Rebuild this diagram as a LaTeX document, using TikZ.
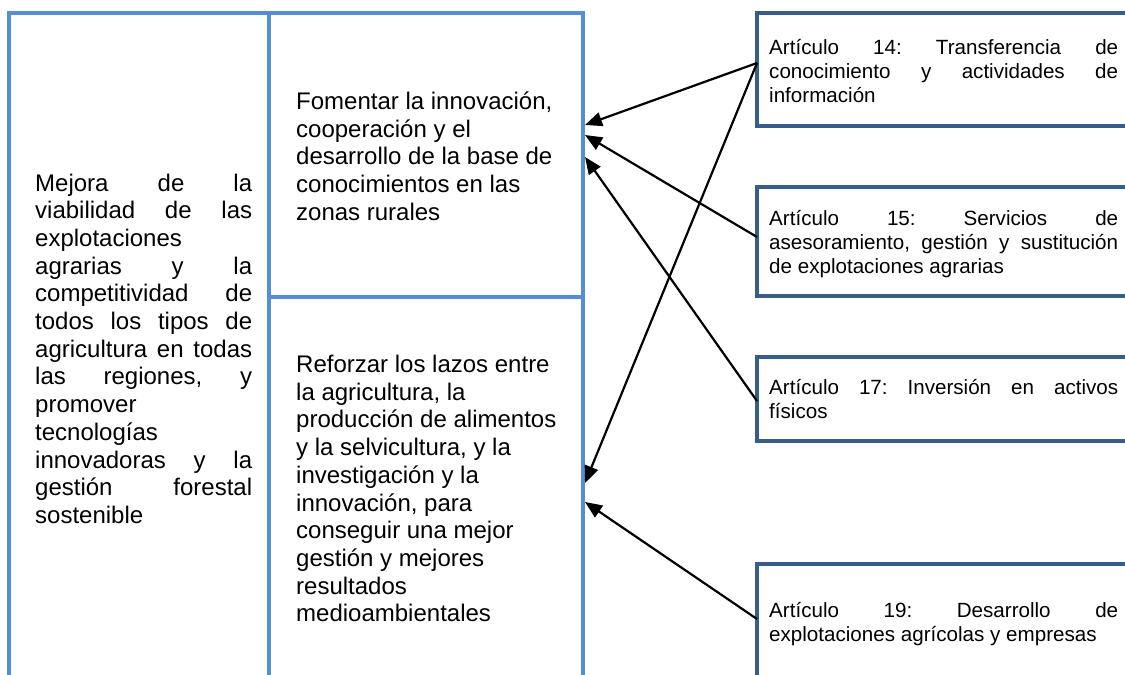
\documentclass[tikz,border=0pt]{standalone}
\usepackage{fontspec}
\setmainfont{Liberation Sans}
\usetikzlibrary{arrows.meta}
\definecolor{tblue}{HTML}{558ED5}
\definecolor{bblue}{HTML}{385D8A}
\begin{document}
\begin{tikzpicture}[x=1pt,y=-1pt,
  cell/.style={draw=tblue,line width=4pt,inner sep=0pt,outer sep=0pt,anchor=north west},
  rbox/.style={draw=bblue,line width=4pt,inner sep=0pt,outer sep=0pt,anchor=north west,minimum width=400pt},
  bigtxt/.style={inner sep=0pt,anchor=base west,font=\fontsize{24}{27.7}\selectfont},
  smtxt/.style={inner sep=0pt,anchor=base west,font=\fontsize{20.6}{24}\selectfont},
  arr/.style={line width=2.2pt,-{Triangle[length=17pt,width=14pt]}}]
\clip (0,0) rectangle (1125,675);
\fill[white] (0,0) rectangle (1125,675);
% table cells
\node[cell,minimum width=259.7pt,minimum height=720pt] (left) at (9.3,13) {};
\node[cell,minimum width=313.7pt,minimum height=283.7pt] (mtop) at (269,13) {};
\node[cell,minimum width=313.7pt,minimum height=420pt] (mbot) at (269,296.7) {};
% right boxes
\node[rbox,minimum height=113pt] (b14) at (757,13) {};
\node[rbox,minimum height=109pt] (b15) at (757,187) {};
\node[rbox,minimum height=84pt] (b17) at (757,357) {};
\node[rbox,minimum height=116pt] (b19) at (757,564) {};
% texts
\node[bigtxt] (tleft) at (35,191) {\parbox[t]{217pt}{Mejora\hfill de\hfill la\\
viabilidad\hfill de\hfill las\\
explotaciones\\
agrarias\hfill y\hfill la\\
competitividad\hfill de\\
todos\hfill los\hfill tipos\hfill de\\
agricultura\hfill en\hfill todas\\
las\hfill regiones,\hfill y\\
promover\\
tecnologías\\
innovadoras\hfill y\hfill la\\
gestión\hfill forestal\\
sostenible}};
\node[bigtxt] (ttop) at (296,109.5) {\parbox[t]{280pt}{\raggedright Fomentar la innovación,\\
cooperación y el\\
desarrollo de la base de\\
conocimientos en las\\
zonas rurales}};
\node[bigtxt] (tbot) at (296,372.5) {\parbox[t]{280pt}{\raggedright Reforzar los lazos entre\\
la agricultura, la\\
producción de alimentos\\
y la selvicultura, y la\\
investigación y la\\
innovación, para\\
conseguir una mejor\\
gestión y mejores\\
resultados\\
medioambientales}};
\node[smtxt] (t14) at (769,54.5) {\parbox[t]{349pt}{Artículo\hfill 14:\hfill Transferencia\hfill de\\
conocimiento\hfill y\hfill actividades\hfill de\\
información}};
\node[smtxt] (t15) at (769,225.5) {\parbox[t]{349pt}{Artículo\hfill 15:\hfill Servicios\hfill de\\
asesoramiento,\hfill gestión\hfill y\hfill sustitución\\
de explotaciones agrarias}};
\node[smtxt] (t17) at (769,394.5) {\parbox[t]{349pt}{Artículo\hfill 17:\hfill Inversión\hfill en\hfill activos\\
físicos}};
\node[smtxt] (t19) at (769,617.5) {\parbox[t]{349pt}{Artículo\hfill 19:\hfill Desarrollo\hfill de\\
explotaciones agrícolas y empresas}};
% connector ends
\coordinate (s14) at (757,63);
\coordinate (s15) at (757,237);
\coordinate (s17) at (757,401);
\coordinate (s19) at (757,619);
\coordinate (e1) at (585,125);
\coordinate (e2) at (585,135);
\coordinate (e3) at (585,157);
\coordinate (e4) at (585,483);
\coordinate (e5) at (585,502);
\draw[arr] (s14) -- (e1);
\draw[arr] (s14) -- (e4);
\draw[arr] (s15) -- (e2);
\draw[arr] (s17) -- (e3);
\draw[arr] (s19) -- (e5);
\end{tikzpicture}
\end{document}
